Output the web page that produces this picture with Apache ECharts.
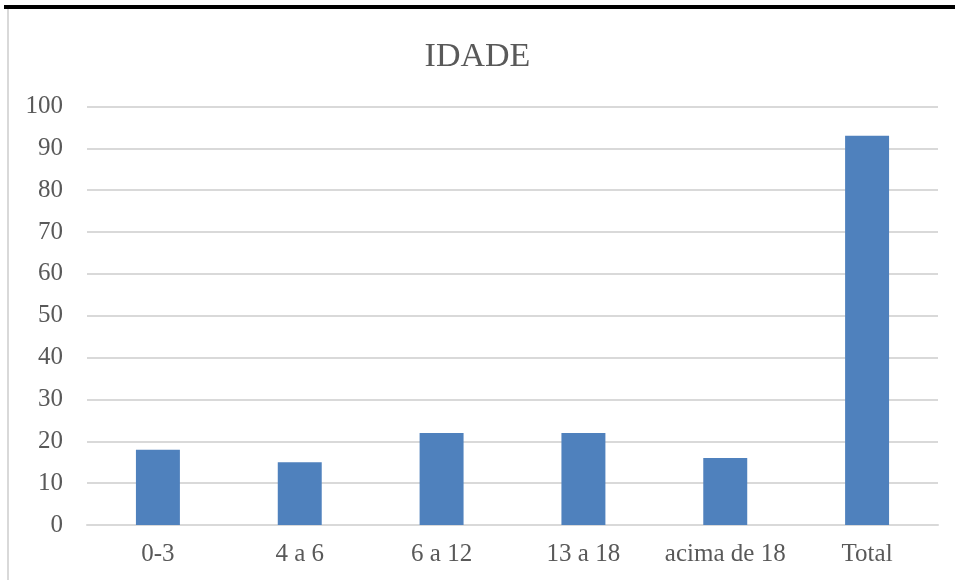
<!DOCTYPE html>
<html>
<head>
<meta charset="utf-8">
<script src="https://cdn.jsdelivr.net/npm/echarts@6/dist/echarts.min.js"></script>
<style>html,body{margin:0;padding:0;background:#fff;}#c{width:955px;height:580px;}</style>
</head>
<body>
<div id="c"></div>
<script>
const titleText = 'IDADE';
const categories = ['0-3', '4 a 6', '6 a 12', '13 a 18', 'acima de 18', 'Total'];
const values = [18, 15, 22, 22, 16, 93];
const yMin = 0, yMax = 100, yStep = 10;

const font = 'Liberation Serif';
const chart = echarts.init(document.getElementById('c'));
chart.setOption({
  animation: false,
  backgroundColor: '#fff',
  title: {
    text: titleText, left: 'center', top: 35,
    textStyle: { fontFamily: font, fontSize: 34, fontWeight: 'normal', color: '#595959' }
  },
  grid: { left: 87, right: 17, top: 106.5, bottom: 55, containLabel: false },
  xAxis: {
    type: 'category', data: categories,
    axisLine: { show: true, lineStyle: { color: '#d9d9d9', width: 2 } },
    axisTick: { show: false },
    axisLabel: { interval: 0, fontFamily: font, fontSize: 25, color: '#595959', margin: 17 }
  },
  yAxis: {
    type: 'value', min: yMin, max: yMax, interval: yStep,
    axisLine: { show: false }, axisTick: { show: false },
    splitLine: { lineStyle: { color: '#d9d9d9', width: 2 } },
    axisLabel: { fontFamily: font, fontSize: 25, color: '#595959', margin: 24 }
  },
  series: [{
    type: 'bar', data: values, barWidth: '31%',
    itemStyle: { color: '#4f81bd' }
  }],
  graphic: [
    { type: 'rect', shape: { x: 4, y: 5, width: 951, height: 4 }, style: { fill: '#000' }, z: 100 },
    { type: 'rect', shape: { x: 7, y: 9, width: 2, height: 571 }, style: { fill: '#d9d9d9' }, z: 100 }
  ]
});
</script>
</body>
</html>
